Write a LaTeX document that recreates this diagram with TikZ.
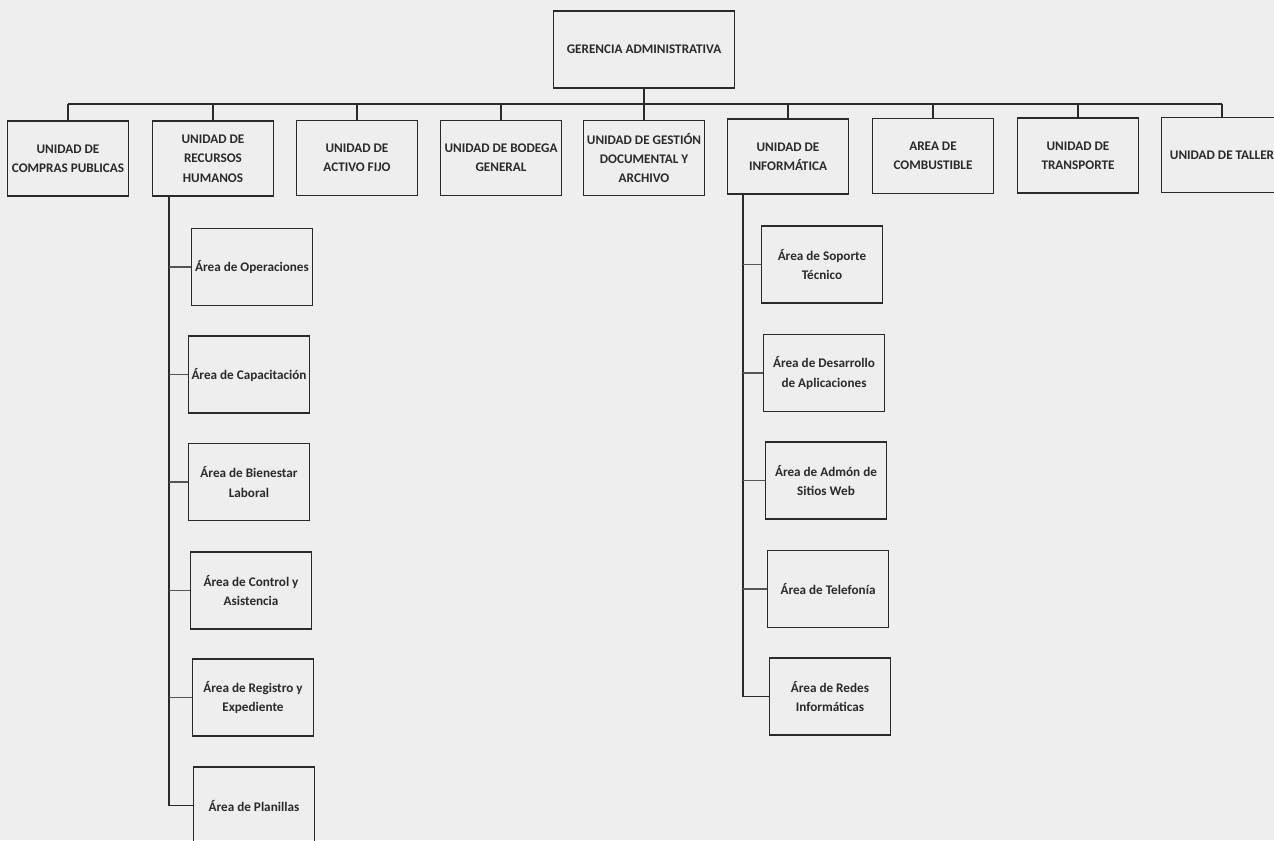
\documentclass[tikz,border=0pt]{standalone}
\usepackage{fontspec}
\setmainfont{Carlito}
\definecolor{paper}{HTML}{EEEEEE}
\definecolor{ink}{HTML}{2A2A2A}
\begin{document}
\begin{tikzpicture}[x=0.02cm,y=-0.02cm,
  box/.style={draw=ink, line width=0.8pt, align=center, inner sep=1pt, text=ink,
    font=\fontsize{7.5}{11}\selectfont\bfseries},
  unitbox/.style={box, minimum width=2.42cm, minimum height=1.5cm},
  areabox/.style={box, minimum width=2.42cm, minimum height=1.54cm},
  topbox/.style={box, minimum width=3.62cm, minimum height=1.54cm},
  link/.style={draw=ink, line width=0.8pt},
  sublink/.style={draw=ink!80, line width=0.6pt}]
\path[fill=paper] (0,0) rectangle (1274,840);
\useasboundingbox (0,0) rectangle (1274,840);
\clip (0,0) rectangle (1274,840);

\node[topbox] (ger) at (644,49.5) {GERENCIA ADMINISTRATIVA};

\node[unitbox] (compras) at (68,158.5) {UNIDAD DE\\COMPRAS PUBLICAS};
\node[unitbox] (rrhh) at (213,158.5) {UNIDAD DE\\RECURSOS\\HUMANOS};
\node[unitbox] (activo) at (357,158) {UNIDAD DE\\ACTIVO FIJO};
\node[unitbox] (bodega) at (501,158) {UNIDAD DE BODEGA\\GENERAL};
\node[unitbox] (gestion) at (644,158) {UNIDAD DE GESTIÓN\\DOCUMENTAL Y\\ARCHIVO};
\node[unitbox] (info) at (788,156.5) {UNIDAD DE\\INFORMÁTICA};
\node[unitbox] (comb) at (933,156) {AREA DE\\COMBUSTIBLE};
\node[unitbox] (trans) at (1078,155.5) {UNIDAD DE\\TRANSPORTE};
\node[unitbox] (taller) at (1222,155) {UNIDAD DE TALLER};

\coordinate (bar) at (0,104);
\draw[link] (compras.north |- bar) -- (taller.north |- bar);
\draw[link] (ger.south) -- (gestion.north);
\foreach \n in {compras,rrhh,activo,bodega,info,comb,trans,taller}
  \draw[link] (\n.north) -- (\n.north |- bar);

% Recursos Humanos
\node[areabox] (op) at (252,267) {Área de Operaciones};
\node[areabox] (cap) at (249,374.5) {Área de Capacitación};
\node[areabox] (bien) at (249,482) {Área de Bienestar\\Laboral};
\node[areabox] (ctrl) at (251,590.5) {Área de Control y\\Asistencia};
\node[areabox] (reg) at (253,697.5) {Área de Registro y\\Expediente};
\node[areabox] (pla) at (254,805.5) {Área de Planillas};

\coordinate (rh) at ([xshift=0.34cm]rrhh.south west);
\draw[link] (rh) |- (pla.west);
\foreach \n in {op,cap,bien,ctrl,reg}
  \draw[sublink] (rh |- \n.west) -- (\n.west);

% Informatica
\node[areabox] (sop) at (822,264.5) {Área de Soporte\\Técnico};
\node[areabox] (des) at (824,373) {Área de Desarrollo\\de Aplicaciones};
\node[areabox] (adm) at (826,480.5) {Área de Admón de\\Sitios Web};
\node[areabox] (tel) at (828,589) {Área de Telefonía};
\node[areabox] (red) at (830,696.5) {Área de Redes\\Informáticas};

\coordinate (inf) at ([xshift=0.32cm]info.south west);
\draw[link] (inf) |- (red.west);
\foreach \n in {sop,des,adm,tel}
  \draw[sublink] (inf |- \n.west) -- (\n.west);
\end{tikzpicture}
\end{document}
